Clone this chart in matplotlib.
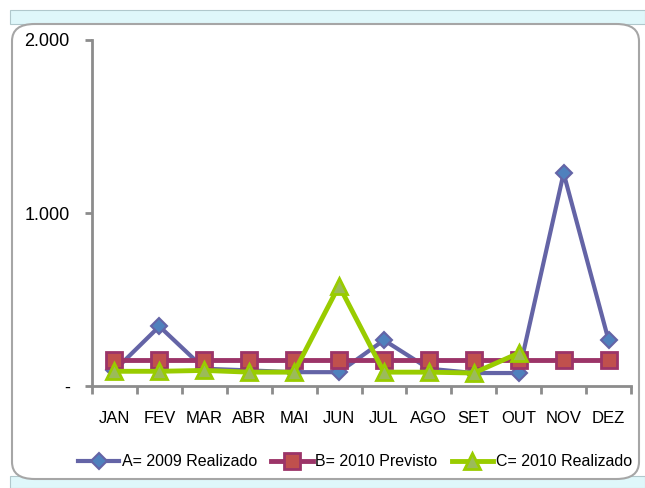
import matplotlib.pyplot as plt
import numpy as np
from matplotlib.patches import FancyBboxPatch, Rectangle

meses = ['JAN', 'FEV', 'MAR', 'ABR', 'MAI', 'JUN', 'JUL', 'AGO', 'SET', 'OUT', 'NOV', 'DEZ']
a_2009_realizado = [90, 345, 100, 90, 80, 80, 265, 100, 75, 75, 1230, 265]
b_2010_previsto = [150, 150, 150, 150, 150, 150, 150, 150, 150, 150, 150, 150]
c_2010_realizado = [85, 85, 90, 80, 80, 580, 80, 80, 75, 190]

plt.rcParams['font.family'] = ['Liberation Sans', 'DejaVu Sans']

fig = plt.figure(figsize=(6.45, 4.88), dpi=100)
fig.patch.set_facecolor('white')

W, H = 645.0, 488.0
# cyan strips top and bottom, rounded white box in between
fig.patches.append(Rectangle((10 / W, (H - 24) / H), 1 - 10 / W, 14 / H, transform=fig.transFigure,
                             facecolor='#dff7fa', edgecolor='#b0c8cc', lw=0.8, zorder=0))
fig.patches.append(Rectangle((10 / W, 0), 1 - 10 / W, 12 / H, transform=fig.transFigure,
                             facecolor='#dff7fa', edgecolor='#b0c8cc', lw=0.8, zorder=0))
fig.patches.append(FancyBboxPatch((12 / W, 9 / H), 627 / W, 455 / H,
                                  boxstyle='round,pad=0,rounding_size=0.035',
                                  transform=fig.transFigure, facecolor='white',
                                  edgecolor='#a6a6a6', lw=1.5, zorder=1))

ax = fig.add_axes([92 / W, (H - 386) / H, (631 - 92) / W, (386 - 40) / H])
ax.set_zorder(2)
ax.patch.set_alpha(0)

x = np.arange(len(meses))
ax.plot(x, a_2009_realizado, color='#6464a6', lw=3, marker='D', ms=8.5,
        mfc='#4f81bd', mec='#6464a6', mew=1.5, label='A= 2009 Realizado', zorder=3)
ax.plot(x, b_2010_previsto, color='#9c3468', lw=3.5, marker='s', ms=11,
        mfc='#c0504d', mec='#9c3468', mew=2, label='B= 2010 Previsto', zorder=4)
ax.plot(x[:len(c_2010_realizado)], c_2010_realizado, color='#99cc00', lw=3.5, marker='^', ms=11,
        mfc='#9bbb59', mec='#99cc00', mew=2, label='C= 2010 Realizado', zorder=5)

ax.set_xlim(-0.5, 11.5)
ax.set_ylim(0, 2000)
ax.set_yticks([0, 1000, 2000])
ax.set_yticklabels(['-', '1.000', '2.000'])
ax.set_xticks(np.arange(-0.5, 12, 1))
ax.set_xticklabels([])
ax.set_xticks(x, minor=True)
ax.set_xticklabels(meses, minor=True)
ax.tick_params(axis='x', which='minor', length=0, pad=18, labelsize=12)
ax.tick_params(axis='x', which='major', length=6, width=2, color='#8c8c8c')
ax.tick_params(axis='y', length=5, width=2, color='#8c8c8c', labelsize=13, pad=11)

for side in ['top', 'right']:
    ax.spines[side].set_visible(False)
for side in ['left', 'bottom']:
    ax.spines[side].set_color('#8c8c8c')
    ax.spines[side].set_linewidth(2)

leg = fig.legend(loc='center', bbox_to_anchor=(0.55, (H - 462) / H), ncol=3, frameon=False,
                 fontsize=11.5, handlelength=2.6, columnspacing=0.9, handletextpad=0.15)

fig.savefig('out.png', dpi=100)
